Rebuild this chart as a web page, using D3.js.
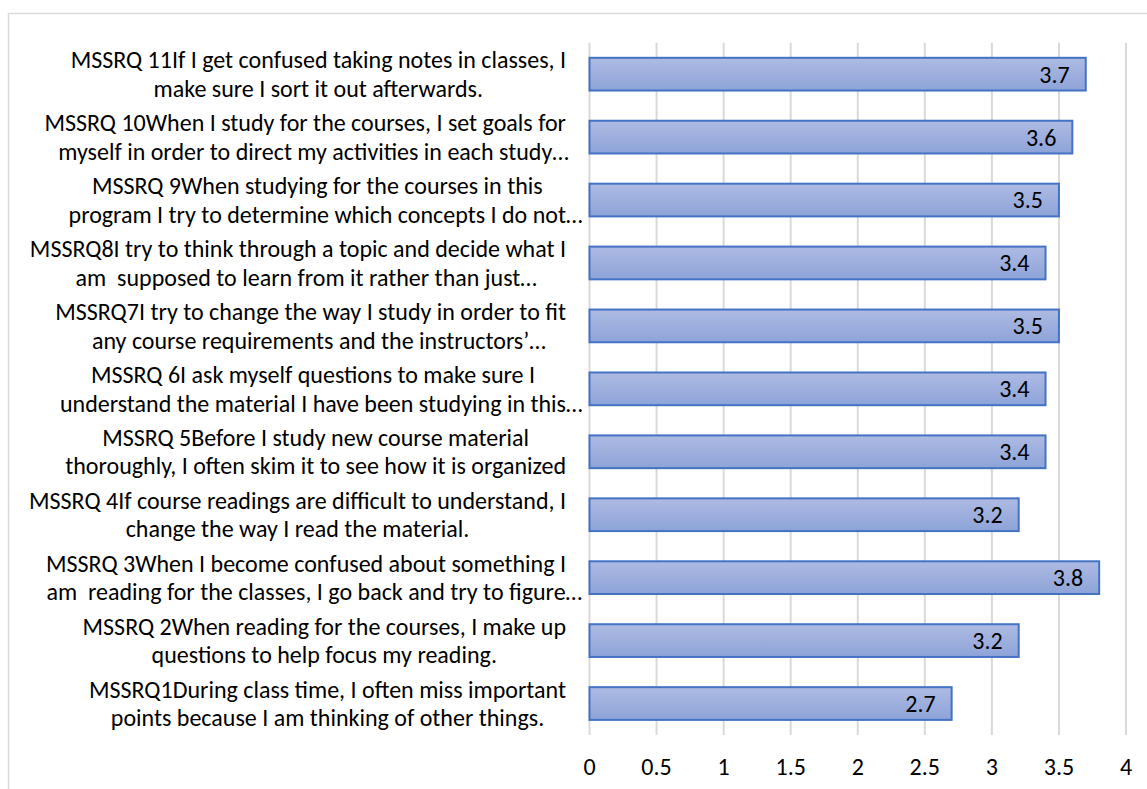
<!doctype html>
<html>
<head>
    <meta charset="utf-8">
    <style>
        body { margin: 0; background: #fff; }
        text { font-family: Carlito, Calibri, Lato, sans-serif; fill: #000; }
    </style>
    <script src="https://d3js.org/d3.v7.min.js"></script>
</head>
<body>
    <svg width="1147" height="789"></svg>
    <script>
        // category labels, top to bottom, as wrapped in the original
        var categories = [
            "MSSRQ 11If I get confused taking notes in classes, I\nmake sure I sort it out afterwards.",
            "MSSRQ 10When I study for the courses, I set goals for\nmyself in order to direct my activities in each study\u2026",
            "MSSRQ 9When studying for the courses in this\nprogram I try to determine which concepts I do not\u2026",
            "MSSRQ8I try to think through a topic and decide what I\nam  supposed to learn from it rather than just\u2026",
            "MSSRQ7I try to change the way I study in order to fit\nany course requirements and the instructors\u2019\u2026",
            "MSSRQ 6I ask myself questions to make sure I\nunderstand the material I have been studying in this\u2026",
            "MSSRQ 5Before I study new course material\nthoroughly, I often skim it to see how it is organized",
            "MSSRQ 4If course readings are difficult to understand, I\nchange the way I read the material.",
            "MSSRQ 3When I become confused about something I\nam  reading for the classes, I go back and try to figure\u2026",
            "MSSRQ 2When reading for the courses, I make up\nquestions to help focus my reading.",
            "MSSRQ1During class time, I often miss important\npoints because I am thinking of other things."
        ];
        var values = [3.7, 3.6, 3.5, 3.4, 3.5, 3.4, 3.4, 3.2, 3.8, 3.2, 2.7];
        var xTicks = [0, 0.5, 1, 1.5, 2, 2.5, 3, 3.5, 4];

        var svg = d3.select("svg");
        var fontSize = 24;

        // chart border (right/bottom run off the picture)
        svg.append("rect")
            .attr("x", 8.5).attr("y", 13.5)
            .attr("width", 1160).attr("height", 800)
            .attr("fill", "none")
            .attr("stroke", "#d9d9d9")
            .attr("stroke-width", 1.5);

        var x = d3.scaleLinear().domain([0, 4]).range([589.5, 1126]);
        var y = d3.scaleBand()
            .domain(d3.range(categories.length))
            .range([42.7, 735])
            .paddingInner(0.48)
            .paddingOuter(0.24);

        var defs = svg.append("defs");
        var grad = defs.append("linearGradient")
            .attr("id", "barFill")
            .attr("x1", 0).attr("y1", 0).attr("x2", 0).attr("y2", 1);
        grad.append("stop").attr("offset", "0%").attr("stop-color", "#aebbe3");
        grad.append("stop").attr("offset", "100%").attr("stop-color", "#8da3d8");

        // gridlines
        svg.append("g")
            .selectAll("line")
            .data(xTicks)
            .enter().append("line")
            .attr("x1", function (d) { return x(d); })
            .attr("x2", function (d) { return x(d); })
            .attr("y1", 42.7)
            .attr("y2", 735)
            .attr("stroke", "#d9d9d9")
            .attr("stroke-width", 2);

        // bars
        svg.append("g")
            .selectAll("rect")
            .data(values)
            .enter().append("rect")
            .attr("x", x(0))
            .attr("y", function (d, i) { return y(i); })
            .attr("width", function (d) { return x(d) - x(0); })
            .attr("height", y.bandwidth())
            .attr("fill", "url(#barFill)")
            .attr("stroke", "#4472c4")
            .attr("stroke-width", 2);

        // value labels, inside end
        svg.append("g")
            .selectAll("text")
            .data(values)
            .enter().append("text")
            .attr("x", function (d) { return x(d) - 16; })
            .attr("y", function (d, i) { return y(i) + y.bandwidth() / 2; })
            .attr("dy", "0.35em")
            .attr("text-anchor", "end")
            .style("font-size", fontSize + "px")
            .text(function (d) { return d; });

        // x axis tick labels
        svg.append("g")
            .selectAll("text")
            .data(xTicks)
            .enter().append("text")
            .attr("x", function (d) { return x(d); })
            .attr("y", 767)
            .attr("dy", "0.35em")
            .attr("text-anchor", "middle")
            .style("font-size", fontSize + "px")
            .text(function (d) { return d; });

        // category labels: lines centred on each other, block right-aligned
        var labelRight = 566;
        var lineGap = 28.5;
        var labels = svg.append("g");
        categories.forEach(function (c, i) {
            var lines = c.split("\n");
            var cy = y(i) + y.bandwidth() / 2;
            var g = labels.append("g");
            var items = lines.map(function (s, j) {
                var t = g.append("text")
                    .attr("y", cy + (j - (lines.length - 1) / 2) * lineGap)
                    .attr("dy", "0.35em")
                    .attr("xml:space", "preserve")
                    .style("white-space", "pre")
                    .style("font-size", fontSize + "px")
                    .text(s.replace(/\u2026$/, ""));
                var w = t.node().getComputedTextLength();
                t.text(s);
                return { t: t, w: w };
            });
            var blockW = d3.max(items, function (d) { return d.w; });
            var cx = labelRight - blockW / 2;
            items.forEach(function (d) {
                d.t.attr("x", cx - d.w / 2);
            });
        });
    </script>
</body>
</html>
